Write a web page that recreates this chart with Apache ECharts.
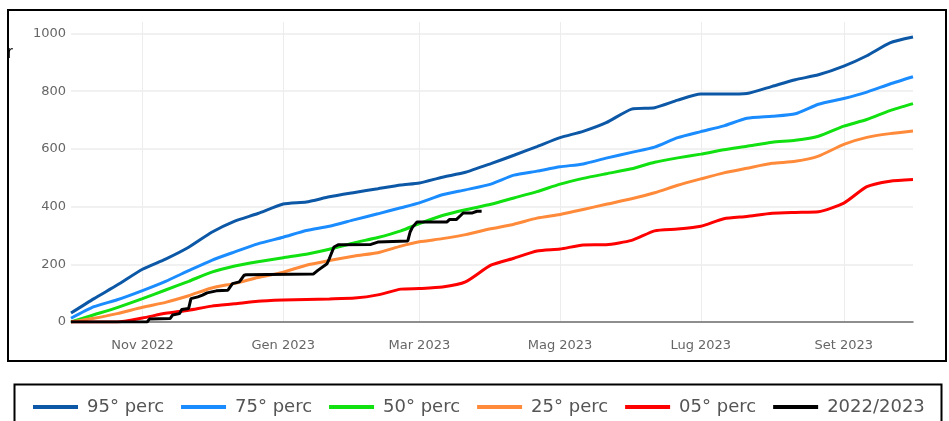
<!DOCTYPE html>
<html>
<head>
<meta charset="utf-8">
<script src="https://cdn.jsdelivr.net/npm/echarts@6/dist/echarts.min.js"></script>
<style>
  html, body { margin: 0; padding: 0; background: #fff; }
  #chart { width: 949px; height: 421px; }
</style>
</head>
<body>
<div id="chart"></div>
<script>
// sampling dates for the percentile curves (1st, 11th, 21st of each month)
var sampleDates = [
    '2022-10-01', '2022-10-11', '2022-10-21', '2022-11-01', '2022-11-11', '2022-11-21',
    '2022-12-01', '2022-12-11', '2022-12-21', '2023-01-01', '2023-01-11', '2023-01-21',
    '2023-02-01', '2023-02-11', '2023-02-21', '2023-03-01', '2023-03-11', '2023-03-21',
    '2023-04-01', '2023-04-11', '2023-04-21', '2023-05-01', '2023-05-11', '2023-05-21',
    '2023-06-01', '2023-06-11', '2023-06-21', '2023-07-01', '2023-07-11', '2023-07-21',
    '2023-08-01', '2023-08-11', '2023-08-21', '2023-09-01', '2023-09-11', '2023-09-21',
    '2023-10-01'
];
var p95 = [31, 81, 128, 183, 218, 259, 311, 350, 376, 409, 416, 434, 449, 462, 475, 482, 502, 519,
    549, 578, 608, 639, 661, 691, 738, 743, 769, 790, 790, 792, 817, 840, 857, 887, 923, 968, 988];
var p75 = [13, 53, 77, 109, 141, 178, 214, 243, 271, 294, 317, 332, 355, 375, 396, 413, 441, 458,
    478, 509, 523, 538, 548, 568, 588, 606, 639, 660, 680, 706, 713, 722, 755, 775, 797, 825, 850];
var p50 = [0, 25, 50, 81, 111, 141, 173, 194, 209, 223, 235, 252, 275, 293, 316, 341, 369, 389,
    408, 430, 452, 478, 498, 514, 531, 554, 569, 582, 597, 609, 623, 630, 644, 679, 702, 733, 757];
var p25 = [0, 13, 29, 51, 68, 91, 118, 134, 154, 173, 197, 213, 229, 240, 263, 278, 289, 303,
    323, 339, 360, 373, 390, 408, 427, 448, 474, 496, 517, 533, 550, 557, 575, 616, 640, 653, 662];
var p05 = [0, 0, 0, 14, 30, 41, 55, 63, 72, 76, 78, 80, 83, 94, 114, 116, 121, 139,
    197, 221, 246, 253, 267, 268, 283, 316, 322, 332, 358, 366, 377, 380, 382, 412, 469, 488, 494];

// current season 2022/2023
var seasonDates = [
    '2022-10-01', '2022-11-03', '2022-11-04', '2022-11-13', '2022-11-14', '2022-11-17', '2022-11-18',
    '2022-11-21', '2022-11-22', '2022-11-25', '2022-11-27', '2022-11-29', '2022-12-03', '2022-12-08',
    '2022-12-09', '2022-12-10', '2022-12-13', '2022-12-15', '2022-12-16', '2023-01-14', '2023-01-16',
    '2023-01-20', '2023-01-21', '2023-01-23', '2023-01-25', '2023-02-08', '2023-02-11', '2023-02-24',
    '2023-02-25', '2023-02-26', '2023-02-28', '2023-03-13', '2023-03-14', '2023-03-17', '2023-03-19',
    '2023-03-20', '2023-03-24', '2023-03-26', '2023-03-28'
];
var seasonValues = [0, 0, 10, 12, 24, 29, 43, 47, 81, 87, 93, 101, 108, 110, 122, 133, 139, 162, 164,
    166, 179, 202, 220, 260, 268, 269, 277, 281, 312, 328, 347, 347, 355, 355, 370, 378, 378, 384, 384];

var names = ['95° perc', '75° perc', '50° perc', '25° perc', '05° perc', '2022/2023'];
var colors = ['#0c58a6', '#1a8cff', '#11e011', '#ff8a3a', '#ff0000', '#000000'];
var monthNames = ['Gen', 'Feb', 'Mar', 'Apr', 'Mag', 'Giu', 'Lug', 'Ago', 'Set', 'Ott', 'Nov', 'Dic'];
var yTicks = [0, 200, 400, 600, 800, 1000];

// daily categories for the x axis
var days = [];
var d = Date.UTC(2022, 9, 1), end = Date.UTC(2023, 9, 1);
while (d <= end) {
    days.push(new Date(d).toISOString().slice(0, 10));
    d += 86400000;
}

function pairs(dates, values) {
    return dates.map(function (s, i) { return [days.indexOf(s), values[i]]; });
}

function isLabelDay(idx, value) {
    var m = parseInt(value.slice(5, 7), 10);
    return value.slice(8) === '01' && m % 2 === 1;
}

var chart = echarts.init(document.getElementById('chart'));

var percs = [p95, p75, p50, p25, p05];
var series = percs.map(function (vals, i) {
    return {
        name: names[i],
        type: 'line',
        data: pairs(sampleDates, vals),
        symbol: 'none',
        smooth: 0.2,
        lineStyle: { color: colors[i], width: 3 },
        itemStyle: { color: colors[i] }
    };
});
series.push({
    name: names[5],
    type: 'line',
    data: pairs(seasonDates, seasonValues),
    symbol: 'none',
    lineStyle: { color: colors[5], width: 3 },
    itemStyle: { color: colors[5] }
});

chart.setOption({
    animation: false,
    grid: { left: 71, right: 36, top: 22, bottom: 99 },
    xAxis: {
        type: 'category',
        data: days,
        boundaryGap: false,
        axisLine: { lineStyle: { color: '#6e6e6e', width: 1.5 } },
        axisTick: { show: false },
        axisLabel: {
            interval: isLabelDay,
            margin: 17,
            color: '#666',
            fontFamily: 'DejaVu Sans',
            fontSize: 13,
            formatter: function (v) {
                return monthNames[parseInt(v.slice(5, 7), 10) - 1] + ' ' + v.slice(0, 4);
            }
        },
        splitLine: { show: true, interval: isLabelDay, lineStyle: { color: '#ececec', width: 1 } }
    },
    yAxis: {
        type: 'value',
        min: yTicks[0],
        max: 1040,
        interval: yTicks[1] - yTicks[0],
        axisLine: { show: false },
        axisTick: { show: false },
        axisLabel: {
            margin: 5,
            color: '#666',
            fontFamily: 'DejaVu Sans',
            fontSize: 13,
            showMaxLabel: false,
            formatter: function (v) { return String(v); }
        },
        splitLine: { showMaxLine: false, lineStyle: { color: '#ececec', width: 1.5 } }
    },
    legend: {
        data: names,
        left: 33,
        top: 398,
        padding: 0,
        icon: 'rect',
        itemWidth: 45,
        itemHeight: 4,
        itemGap: 17,
        textStyle: {
            fontFamily: 'DejaVu Sans',
            fontSize: 18,
            color: '#555',
            padding: [0, 0, 0, 4]
        }
    },
    graphic: [
        {
            type: 'rect',
            shape: { x: 8, y: 10, width: 938, height: 351 },
            style: { fill: 'none', stroke: '#000', lineWidth: 2 },
            silent: true
        },
        {
            type: 'rect',
            shape: { x: 14.5, y: 384.5, width: 927, height: 60 },
            style: { fill: 'none', stroke: '#000', lineWidth: 2 },
            silent: true
        },
        {
            type: 'text',
            left: 7,
            top: 44,
            style: { text: 'r', fontFamily: 'Liberation Sans', fontSize: 18, fill: '#000' },
            silent: true
        }
    ],
    series: series
});
</script>
</body>
</html>
